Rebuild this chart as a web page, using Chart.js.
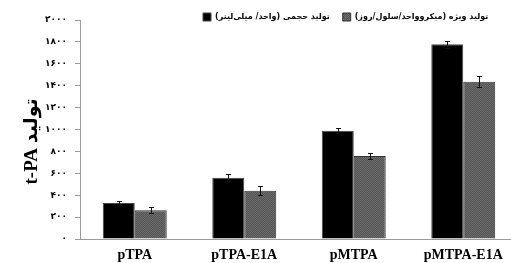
<!DOCTYPE html>
<html>
<head>
<meta charset="utf-8">
<script src="https://cdn.jsdelivr.net/npm/chart.js@4/dist/chart.umd.min.js"></script>
<style>
  html, body { margin: 0; padding: 0; background: #fff; overflow: hidden; }
  #wrap { width: 518px; height: 263px; position: relative; }
</style>
</head>
<body>
<div id="wrap"><canvas id="tpa-chart"></canvas></div>
<script>
const categories = ['pTPA', 'pTPA-E1A', 'pMTPA', 'pMTPA-E1A'];
const seriesNames = ['تولید حجمی (واحد/ میلی‌لیتر)', 'تولید ویژه (میکروواحد/سلول/روز)'];
const volumetric = [329, 560, 989, 1778];
const volumetricErr = [21, 31, 22, 30];
const specific = [262, 441, 758, 1437];
const specificErr = [26, 40, 27, 52];
const yTicks = [0, 200, 400, 600, 800, 1000, 1200, 1400, 1600, 1800, 2000];

const faDigits = (n) => String(n).replace(/\d/g, (d) => '۰۱۲۳۴۵۶۷۸۹'[d]);

// dotted grey fill like the original
const makePattern = () => {
    const c = document.createElement('canvas');
    c.width = 2; c.height = 2;
    const g = c.getContext('2d');
    g.fillStyle = '#545454'; g.fillRect(0, 0, 2, 2);
    g.fillStyle = '#6c6c6c'; g.fillRect(0, 0, 1, 1); g.fillRect(1, 1, 1, 1);
    return g.createPattern(c, 'repeat');
};

const errorBars = {
    id: 'errorBars',
    afterDatasetsDraw(chart) {
        const { ctx, scales: { y } } = chart;
        ctx.save();
        ctx.strokeStyle = '#111';
        ctx.lineWidth = 1;
        chart.data.datasets.forEach((ds, i) => {
            chart.getDatasetMeta(i).data.forEach((bar, j) => {
                const v = ds.data[j], e = ds.errors[j];
                const x = Math.round(bar.x) + 0.5;
                const top = Math.round(y.getPixelForValue(v + e)) + 0.5;
                const bot = Math.round(y.getPixelForValue(v - e)) + 0.5;
                ctx.beginPath();
                ctx.moveTo(x, top); ctx.lineTo(x, bot);
                ctx.moveTo(x - 2.5, top); ctx.lineTo(x + 2.5, top);
                ctx.moveTo(x - 2.5, bot); ctx.lineTo(x + 2.5, bot);
                ctx.stroke();
            });
        });
        ctx.restore();
    },
};

// legend sits inside the plot, over its top edge
const moveLegend = {
    id: 'moveLegend',
    afterLayout(chart) {
        const lg = chart.legend;
        if (!lg) return;
        lg.left = 190; lg.right = 518;
        lg.top = 0; lg.bottom = 60;
        lg.width = lg.right - lg.left; lg.height = 60;
    },
};

new Chart(document.getElementById('tpa-chart'), {
    type: 'bar',
    data: {
        labels: categories,
        datasets: [
            { label: seriesNames[0], data: volumetric, errors: volumetricErr,
              backgroundColor: '#000', borderColor: '#444', borderWidth: 1 },
            { label: seriesNames[1], data: specific, errors: specificErr,
              backgroundColor: makePattern(), borderColor: '#333', borderWidth: 1 },
        ],
    },
    options: {
        responsive: true,
        maintainAspectRatio: false,
        animation: false,
        datasets: { bar: { categoryPercentage: 0.584, barPercentage: 1 } },
        layout: { padding: { top: 19, left: 21, right: 0, bottom: 0 } },
        plugins: {
            tooltip: { enabled: false },
            legend: {
                position: 'top',
                align: 'start',
                maxHeight: 1,
                textDirection: 'rtl',
                labels: {
                    boxWidth: 8, boxHeight: 8, padding: 13, color: '#000',
                    font: { family: 'DejaVu Sans', size: 8, weight: 'bold' },
                },
            },
        },
        scales: {
            x: {
                grid: { display: false, drawTicks: false },
                border: { color: '#9a9a9a', width: 1 },
                ticks: { padding: 8, color: '#000',
                         font: { family: 'Liberation Serif', size: 14, weight: 'bold' } },
                afterFit: (s) => { s.height = 24; },
            },
            y: {
                min: 0, max: 2000,
                afterBuildTicks: (s) => { s.ticks = yTicks.map((value) => ({ value })); },
                grid: { drawOnChartArea: false, tickLength: 5, color: '#9a9a9a' },
                border: { color: '#9a9a9a', width: 1 },
                ticks: { padding: 8, color: '#000', callback: (v) => faDigits(v),
                         font: { family: 'DejaVu Sans', size: 9, weight: 'bold' } },
                title: { display: true, text: 't-PA تولید     ', color: '#000', padding: 0,
                         font: { family: "'Liberation Serif', 'DejaVu Sans'", size: 19, weight: 'bold' } },
                afterFit: (s) => { s.width = 59; },
            },
        },
    },
    plugins: [errorBars, moveLegend],
});
</script>
</body>
</html>
